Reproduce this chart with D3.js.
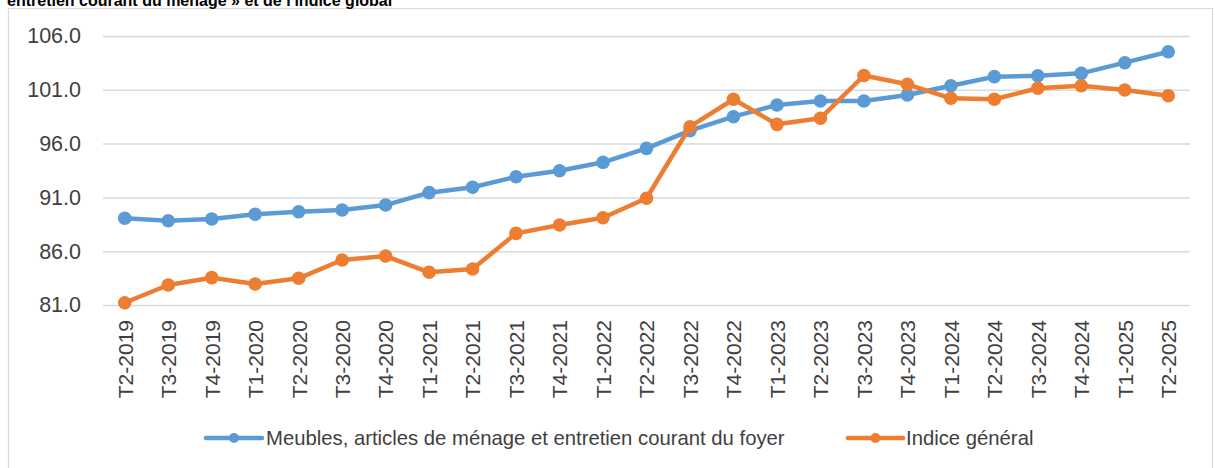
<!DOCTYPE html>
<html>
<head>
<meta charset="utf-8">
<script src="https://cdn.jsdelivr.net/npm/d3@7"></script>
<style>
  html, body { margin: 0; padding: 0; background: #fff; }
  svg { display: block; }
</style>
</head>
<body>
<svg id="chart" width="1215" height="468"></svg>
<script>
const categories = ["T2-2019","T3-2019","T4-2019","T1-2020","T2-2020","T3-2020","T4-2020",
  "T1-2021","T2-2021","T3-2021","T4-2021","T1-2022","T2-2022","T3-2022","T4-2022",
  "T1-2023","T2-2023","T3-2023","T4-2023","T1-2024","T2-2024","T3-2024","T4-2024",
  "T1-2025","T2-2025"];
const meublesValues = [89.06,88.83,88.99,89.43,89.67,89.83,90.29,91.44,91.94,92.92,93.48,94.26,95.56,
  97.2,98.5,99.59,99.96,99.96,100.52,101.38,102.22,102.31,102.53,103.52,104.54];
const indiceValues = [81.21,82.86,83.54,82.95,83.48,85.18,85.55,84.04,84.35,87.66,88.43,89.11,90.92,
  97.57,100.12,97.79,98.35,102.33,101.51,100.21,100.12,101.14,101.38,100.98,100.45];
const yTicks = [81,86,91,96,101,106];
const seriesNames = ["Meubles, articles de ménage et entretien courant du foyer","Indice général"];
const titleText = "entretien courant du ménage » et de l'indice global";

const colors = ["#5B9BD5","#ED7D31"];
const svg = d3.select("#chart");

// frame
svg.append("path")
  .attr("d","M8.5,470 L8.5,8.5 L1212.5,8.5 L1212.5,470")
  .attr("fill","none").attr("stroke","#d9d9d9").attr("stroke-width",1.2);

// clipped title (partly above the visible area, as in the reference)
svg.append("text").attr("x",7).attr("y",6)
  .attr("font-family","Liberation Sans, Arial, sans-serif")
  .attr("font-weight","bold").attr("font-size",16).attr("fill","#000")
  .text(titleText);

const x = d3.scalePoint().domain(categories).range([103,1190]).padding(0.5);
const y = d3.scaleLinear().domain([81,106]).range([305,36]);

// gridlines + y labels
const yAxis = d3.axisLeft(y).tickValues(yTicks).tickSize(-(1190-103)).tickFormat(d3.format(".1f")).tickPadding(22);
const gy = svg.append("g").attr("transform","translate(103,0)").call(yAxis);
gy.select(".domain").remove();
gy.selectAll(".tick line").attr("stroke","#d9d9d9").attr("stroke-width",1.5);
gy.selectAll(".tick text")
  .attr("font-family","Liberation Sans, Arial, sans-serif")
  .attr("font-size",21.5).attr("fill","#404040");

// x axis labels
const xAxis = d3.axisBottom(x).tickSize(0).tickPadding(0);
const gx = svg.append("g").attr("transform","translate(0,305)").call(xAxis);
gx.select(".domain").remove();
gx.selectAll(".tick text")
  .attr("font-family","Liberation Sans, Arial, sans-serif")
  .attr("font-size",21).attr("fill","#404040")
  .attr("text-anchor","end")
  .attr("transform","translate(0,15) rotate(-90)")
  .attr("dy","0.35em").attr("x",0).attr("y",0);

const line = d3.line().x((d,i)=>x(categories[i])).y(d=>y(d));
[meublesValues, indiceValues].forEach((vals, k) => {
  const g = svg.append("g");
  g.append("path").datum(vals).attr("d", line)
    .attr("fill","none").attr("stroke",colors[k]).attr("stroke-width",4.5)
    .attr("stroke-linejoin","round");
  g.selectAll("circle").data(vals).join("circle")
    .attr("cx",(d,i)=>x(categories[i])).attr("cy",d=>y(d)).attr("r",6.8)
    .attr("fill",colors[k]);
});

// legend
const legendItems = [{x0:206, x1:262, tx:266}, {x0:848, x1:903, tx:906}];
const ly = 438;
legendItems.forEach((it,k)=>{
  const g = svg.append("g");
  g.append("line").attr("x1",it.x0).attr("x2",it.x1).attr("y1",ly).attr("y2",ly)
    .attr("stroke",colors[k]).attr("stroke-width",4.5).attr("stroke-linecap","round");
  g.append("circle").attr("cx",(it.x0+it.x1)/2).attr("cy",ly).attr("r",5).attr("fill",colors[k]);
  g.append("text").attr("x",it.tx).attr("y",ly).attr("dy","0.35em")
    .attr("font-family","Liberation Sans, Arial, sans-serif")
    .attr("font-size",20.3).attr("fill","#404040")
    .text(seriesNames[k]);
});
</script>
</body>
</html>
